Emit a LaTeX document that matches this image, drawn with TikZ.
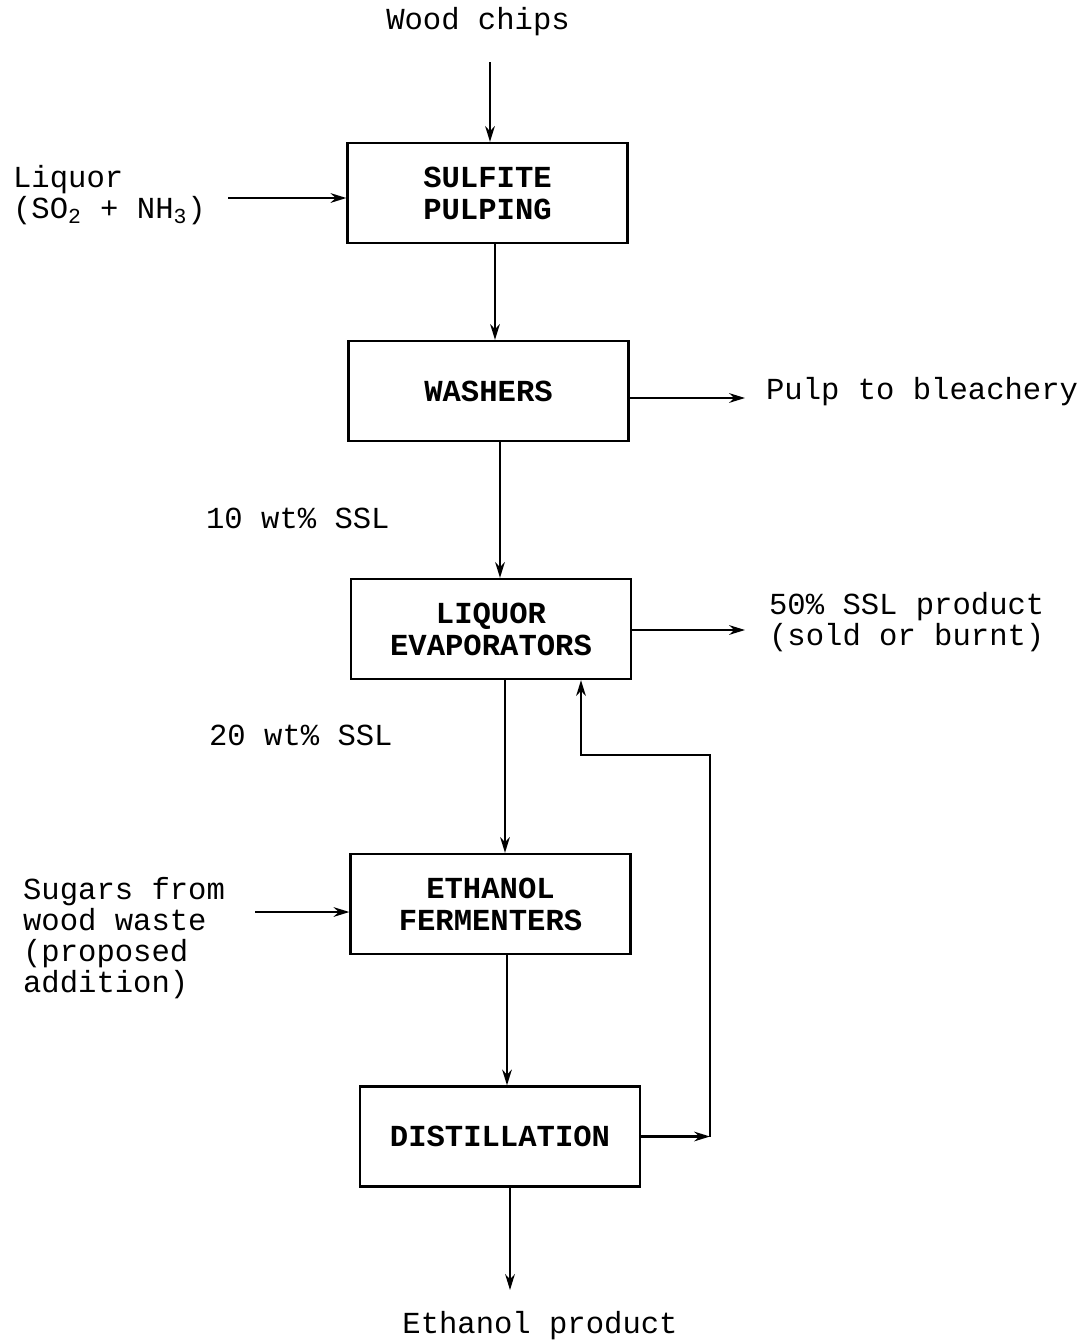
\documentclass[tikz,border=0pt]{standalone}
\usepackage{fontspec}
\setmainfont{Liberation Mono}
\usetikzlibrary{arrows.meta}
\begin{document}
\begin{tikzpicture}[>={Stealth[length=9pt,width=5.5pt]}, x=0.02cm, y=-0.02cm, line width=1.3pt,
  box/.style={draw, minimum width=5.6cm, minimum height=2cm, align=center, inner sep=0pt, font=\fontsize{17.4}{18.2}\selectfont\bfseries},
  lbl/.style={inner sep=0pt, align=left, font=\fontsize{17.4}{17.8}\selectfont},
  flow/.style={->}]
\useasboundingbox (0,0) rectangle (1084,1343);
\node[box](pulp) at (487.5,193){SULFITE\\PULPING};
\node[box](wash) at (488.5,391){WASHERS};
\node[box](evap) at (491,629){LIQUOR\\EVAPORATORS};
\node[box](ferm) at (490.5,904){ETHANOL\\FERMENTERS};
\node[box](dist) at (500,1136.5){DISTILLATION};
\node[lbl](wood) at (478,22){Wood chips};
\node[lbl, anchor=west](liq) at (12,195){Liquor\\(SO\textsubscript{2} + NH\textsubscript{3})};
\node[lbl, anchor=west](bleach) at (765,392){Pulp to bleachery};
\node[lbl, anchor=west](ssl10) at (205,518){10 wt\% SSL};
\node[lbl, anchor=west](ssl50) at (768,622){50\% SSL product\\(sold or burnt)};
\node[lbl, anchor=west](ssl20) at (208,735){20 wt\% SSL};
\node[lbl, anchor=west](sugar) at (22,938){Sugars from\\wood waste\\(proposed\\addition)};
\node[lbl](etoh) at (540,1326){Ethanol product};
\coordinate (woodend) at (490,62);
\coordinate (liqend) at (228,198);
\coordinate (bleachend) at (745,398);
\coordinate (sslend) at (745,630);
\coordinate (sugend) at (255,912);
\coordinate (corner) at (710,755);
\coordinate (etohend) at (510,1290);
\draw[flow](woodend)--(woodend |- pulp.north);
\draw[flow](liqend)--(liqend -| pulp.west);
\draw[flow](pulp.south -| 495,0)--(wash.north -| 495,0);
\draw[flow](wash.east |- bleachend)--(bleachend);
\draw[flow](wash.south -| 500,0)--(evap.north -| 500,0);
\draw[flow](evap.east |- sslend)--(sslend);
\draw[flow](evap.south -| 505,0)--(ferm.north -| 505,0);
\draw[flow](sugend)--(sugend -| ferm.west);
\draw[flow](ferm.south -| 507,0)--(dist.north -| 507,0);
\draw[flow](dist.south -| 510,0)--(etohend);
\draw[flow](dist.east)--(corner |- dist.east);
\draw[flow](corner |- dist.east)--(corner)--(581,755)--(evap.south -| 581,0);
\end{tikzpicture}
\end{document}
